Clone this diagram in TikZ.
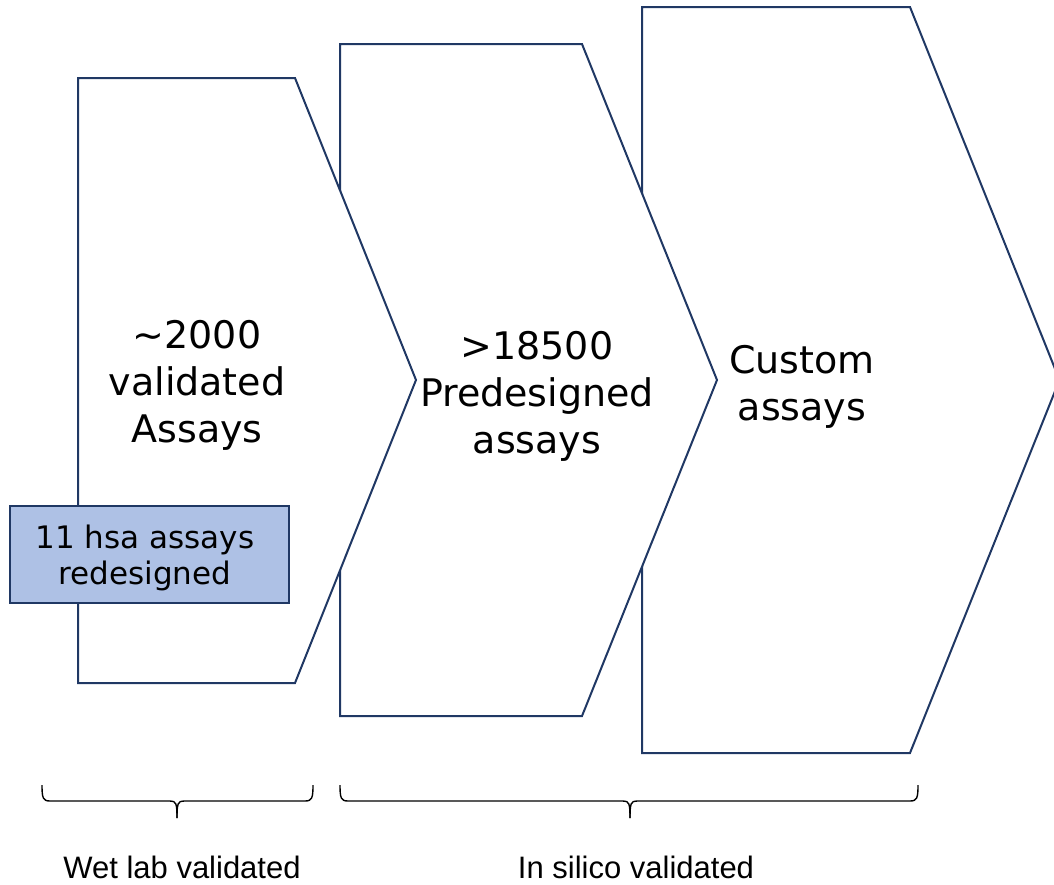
\documentclass[tikz,border=0pt]{standalone}
\usepackage{fontspec}
\setmainfont{DejaVu Sans}
\newfontfamily\arialfont{Liberation Sans}
\definecolor{navy}{HTML}{203864}
\definecolor{boxblue}{HTML}{AEC1E5}
\tikzset{
  chevron/.style={draw=navy, line width=2pt, fill=white, line join=miter},
  bigtext/.style={align=center, font=\fontsize{38}{47}\selectfont, inner sep=0pt},
  smalltext/.style={align=center, font=\fontsize{31}{36}\selectfont, inner sep=0pt},
  bracetext/.style={font=\arialfont\fontsize{31}{37}\selectfont, inner sep=0pt, anchor=base},
  bracepath/.style={draw=black, line width=1.4pt},
  bluebox/.style={draw=navy, line width=1.5pt, fill=boxblue, minimum width=279pt, minimum height=97pt, inner sep=0pt}
}
\begin{document}
\begin{tikzpicture}[x=1pt,y=-1pt]
\useasboundingbox (0,0) rectangle (1054,884);
\begin{scope}
\clip (0,0) rectangle (1054,884);
% third chevron (back)
\draw[chevron] (642,7) -- (910,7) -- (1059.5,380) -- (910,753) -- (642,753) -- cycle;
\end{scope}
% second chevron
\draw[chevron] (340,44) -- (582,44) -- (717,380) -- (582,716) -- (340,716) -- cycle;
% first chevron (front)
\draw[chevron] (78,78) -- (295,78) -- (416,380) -- (295,683) -- (78,683) -- cycle;

\node[bigtext] (t1) at (197,385) {\textasciitilde2000\\validated\\Assays};
\node[bigtext] (t2) at (537,396) {>18500\\Predesigned\\assays};
\node[bigtext] (t3) at (802,387) {Custom\\assays};

\node[bluebox] (box) at (149.5,554.5) {};
\node[smalltext] (boxtext) at (145,558) {11 hsa assays\\redesigned};

% braces
\coordinate (b1l) at (42,785);
\coordinate (b1r) at (313,785);
\coordinate (b1t) at (177,818);
\coordinate (b2l) at (340,785);
\coordinate (b2r) at (918,785);
\coordinate (b2t) at (630,818);
\draw[bracepath] (b1l) .. controls (42,798) and (43,801) .. (50,801) -- (170,801) .. controls (176,801) and (177,803) .. (b1t);
\draw[bracepath] (b1t) .. controls (177,803) and (178,801) .. (184,801) -- (305,801) .. controls (312,801) and (313,798) .. (b1r);
\draw[bracepath] (b2l) .. controls (340,798) and (341,801) .. (348,801) -- (623,801) .. controls (629,801) and (630,803) .. (b2t);
\draw[bracepath] (b2t) .. controls (630,803) and (631,801) .. (637,801) -- (910,801) .. controls (917,801) and (918,798) .. (b2r);

\node[bracetext] (l1) at (182,878) {Wet lab validated};
\node[bracetext] (l2) at (636,878) {In silico validated};
\end{tikzpicture}
\end{document}
